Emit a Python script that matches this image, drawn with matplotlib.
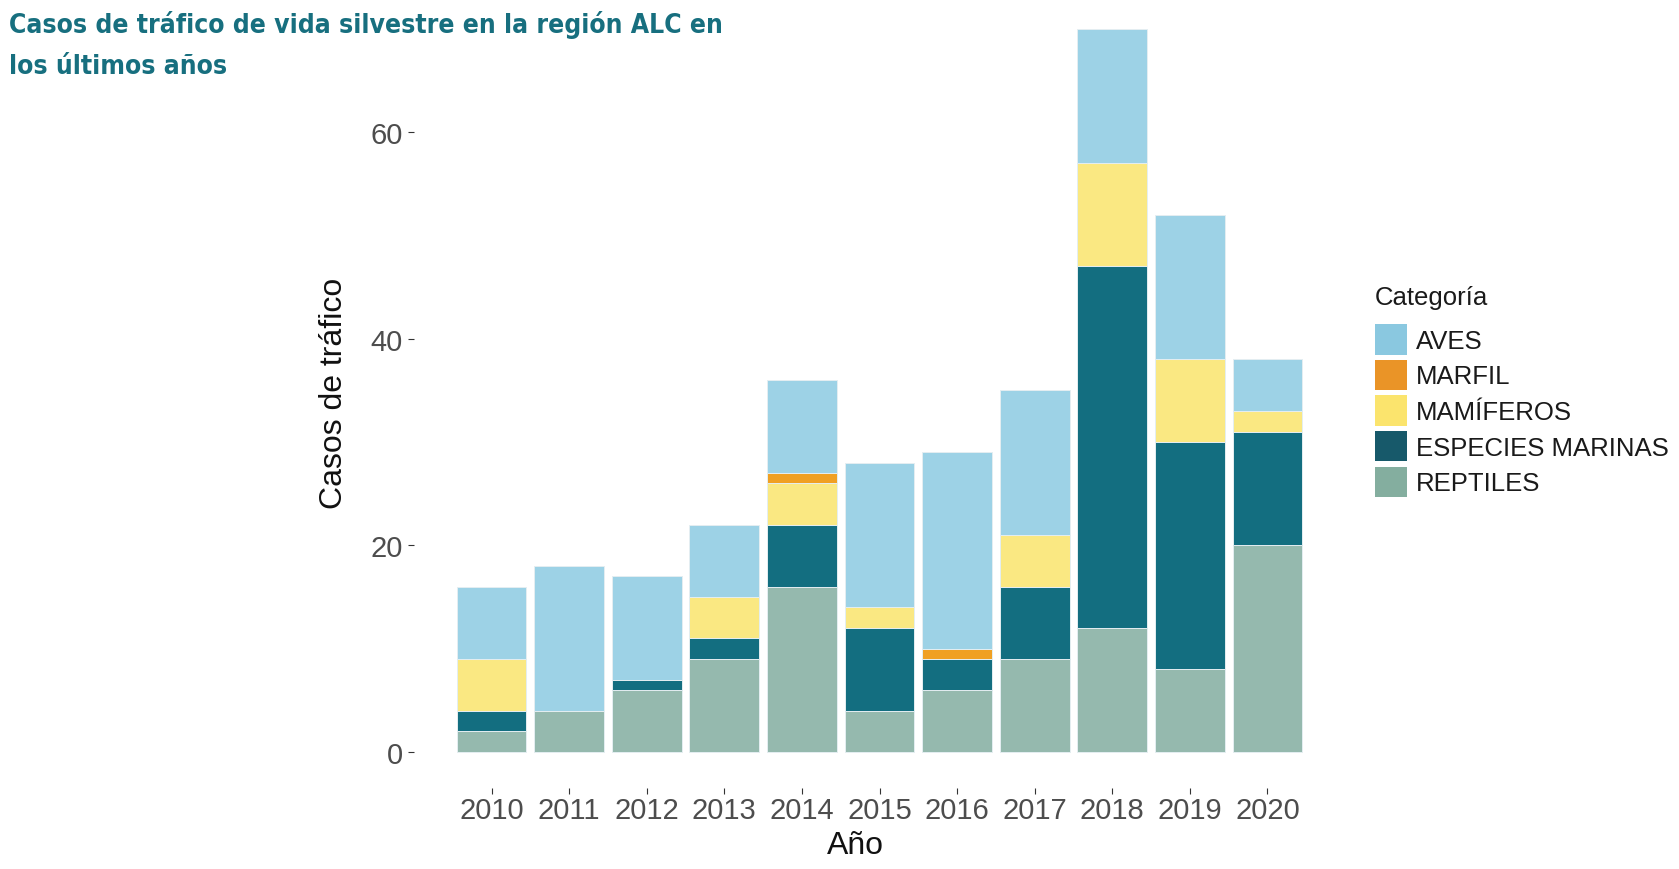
import matplotlib
matplotlib.use('Agg')
import matplotlib.pyplot as plt
from matplotlib.patches import Patch
from matplotlib import font_manager
import numpy as np

plt.rcParams['font.family'] = ['Liberation Sans', 'DejaVu Sans']

anios = ['2010', '2011', '2012', '2013', '2014', '2015', '2016', '2017', '2018', '2019', '2020']
# apilado de abajo hacia arriba
categorias = ['REPTILES', 'ESPECIES MARINAS', 'MAMÍFEROS', 'MARFIL', 'AVES']
reptiles = [2, 4, 6, 9, 16, 4, 6, 9, 12, 8, 20]
marinas = [2, 0, 1, 2, 6, 8, 3, 7, 35, 22, 11]
mamiferos = [5, 0, 0, 4, 4, 2, 0, 5, 10, 8, 2]
marfil = [0, 0, 0, 0, 1, 0, 1, 0, 0, 0, 0]
aves = [7, 14, 10, 7, 9, 14, 19, 14, 13, 14, 5]

colores_barra = {'AVES': '#9DD2E6', 'MARFIL': '#F0A023', 'MAMÍFEROS': '#FAE882',
                 'ESPECIES MARINAS': '#136E80', 'REPTILES': '#95B9AE'}
colores_leyenda = {'AVES': '#8AC8E0', 'MARFIL': '#EA9427', 'MAMÍFEROS': '#FBE46D',
                   'ESPECIES MARINAS': '#17596A', 'REPTILES': '#84AE9F'}
orden_leyenda = ['AVES', 'MARFIL', 'MAMÍFEROS', 'ESPECIES MARINAS', 'REPTILES']

valores = {'REPTILES': reptiles, 'ESPECIES MARINAS': marinas, 'MARFIL': marfil,
           'MAMÍFEROS': mamiferos, 'AVES': aves}

# fuente estrecha para el título si existe
titulo_font = dict(family=['Liberation Sans', 'DejaVu Sans'], size=18)
for fam, stretch in [('Liberation Sans Narrow', 'normal'), ('DejaVu Sans', 'condensed')]:
    fp = font_manager.FontProperties(family=fam, weight='bold', stretch=stretch)
    try:
        f = font_manager.findfont(fp, fallback_to_default=False)
    except Exception:
        continue
    if 'Narrow' in f or 'Condensed' in f:
        titulo_font = dict(family=[fam, 'DejaVu Sans'], stretch=stretch, size=19)
        break

fig = plt.figure(figsize=(16.79, 8.70), dpi=100)
ax = fig.add_axes([414 / 1679, 81 / 870, 931 / 1679, 789 / 870])

x = np.arange(1, len(anios) + 1)
base = np.zeros(len(anios))
for cat in categorias:
    v = np.array(valores[cat], dtype=float)
    ax.bar(x, v, bottom=base, width=0.9, color=colores_barra[cat],
           edgecolor='#e4eef1', linewidth=0.7)
    base += v

ax.set_xlim(0, 12)
ax.set_ylim(-3.5, 72.9)
ax.set_xticks(x)
ax.set_xticklabels(anios)
ax.set_yticks([0, 20, 40, 60])
for s in ax.spines.values():
    s.set_visible(False)
ax.tick_params(axis='both', colors='#333333', labelcolor='#4D4D4D',
               labelsize=21, length=4, width=0.8)
ax.tick_params(axis='x', pad=2)
ax.tick_params(axis='y', pad=4)

fig.text(334 / 1679, 1 - 393 / 870, 'Casos de tráfico', rotation=90,
         ha='center', va='center', fontsize=23, color='#111111')
fig.text(855 / 1679, 1 - 846 / 870, 'Año', ha='center', va='center',
         fontsize=23, color='#111111')

fig.text(9 / 1679, 1 - 33 / 870, 'Casos de tráfico de vida silvestre en la región ALC en',
         ha='left', va='baseline', fontweight='bold', color='#176F7F', **titulo_font)
fig.text(9 / 1679, 1 - 74 / 870, 'los últimos años',
         ha='left', va='baseline', fontweight='bold', color='#176F7F', **titulo_font)

fig.text(1375 / 1679, 1 - 298 / 870, 'Categoría', ha='left', va='center',
         fontsize=18.5, color='#1a1a1a')
handles = [Patch(facecolor=colores_leyenda[c], edgecolor='none') for c in orden_leyenda]
leg = fig.legend(handles, orden_leyenda, loc='upper left',
                 bbox_to_anchor=(1375 / 1679, 1 - 325 / 870), frameon=False,
                 fontsize=18.5, handlelength=1.24, handleheight=1.45,
                 labelspacing=0.2, handletextpad=0.36, borderpad=0, borderaxespad=0)
for t in leg.get_texts():
    t.set_color('#1a1a1a')

fig.savefig('out.png', dpi=100)
